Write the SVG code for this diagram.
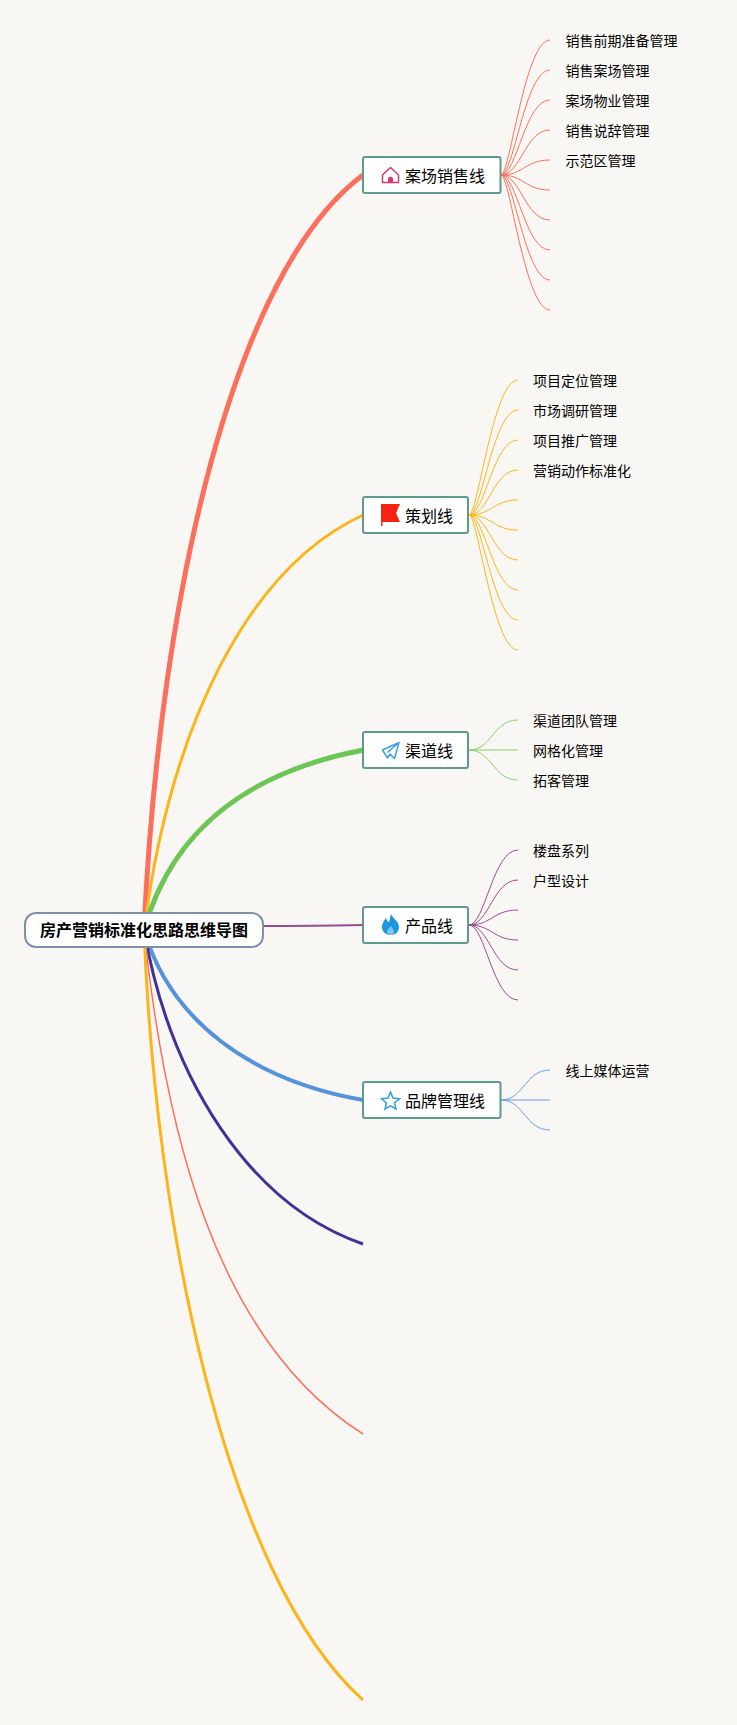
<svg xmlns="http://www.w3.org/2000/svg" width="737" height="1725" viewBox="0 0 737 1725">
<style>
.bg{fill:#f9f7f4}
.c{fill:none}
.l{fill:none;stroke-width:1}
.n{fill:#fff;stroke:#5f9a8f;stroke-width:2}
.t{font-family:"Noto Sans CJK SC","Liberation Sans",sans-serif;fill:#000}
.m{font-size:16px}
.s{font-size:14px}
</style>
<rect class="bg" width="737" height="1725"/>
<g id="connectors">
<path class="c" d="M144 930C160 590 235 270 363 175" stroke="#fc6f5c" stroke-width="5"/>
<path class="c" d="M144 930C170 730 245 570 363 515" stroke="#fbb51a" stroke-width="3"/>
<path class="c" d="M144 930C175 820 260 770 363 750" stroke="#6cc555" stroke-width="5"/>
<path class="c" d="M263 926Q310 926 363 925" stroke="#9a4b92" stroke-width="2"/>
<path class="c" d="M144 930C170 1020 250 1080 363 1100" stroke="#5592dd" stroke-width="4"/>
<path class="c" d="M144 930C170 1080 250 1205 363 1244" stroke="#3f3296" stroke-width="3"/>
<path class="c" d="M144 930C165 1130 215 1340 363 1434" stroke="#fc6f5c" stroke-width="1.500"/>
<path class="c" d="M144 930C155 1220 224 1575 363 1700" stroke="#fbb51a" stroke-width="3"/>
<path class="l" stroke="#fc6f5c" d="M501 175C510 175 525 40 550 40M501 175C514 175 525 70 550 70M501 175C517 175 525 100 550 100M501 175C521 175 525 130 550 130M501 175C524 175 525 160 550 160M501 175C524 175 525 190 550 190M501 175C521 175 525 220 550 220M501 175C517 175 525 250 550 250M501 175C514 175 525 280 550 280M501 175C510 175 525 310 550 310"/>
<path class="l" stroke="#fbb51a" d="M469 515C478 515 493 380 518 380M469 515C482 515 493 410 518 410M469 515C485 515 493 440 518 440M469 515C489 515 493 470 518 470M469 515C492 515 493 500 518 500M469 515C492 515 493 530 518 530M469 515C489 515 493 560 518 560M469 515C485 515 493 590 518 590M469 515C482 515 493 620 518 620M469 515C478 515 493 650 518 650"/>
<path class="l" stroke="#8ccb73" d="M469 750C492 750 493 720 518 720M469 750H518M469 750C492 750 493 780 518 780"/>
<path class="l" stroke="#9a4b92" d="M469 925C485 925 493 850 518 850M469 925C489 925 493 880 518 880M469 925C492 925 493 910 518 910M469 925C492 925 493 940 518 940M469 925C489 925 493 970 518 970M469 925C485 925 493 1000 518 1000"/>
<path class="l" stroke="#6f9fe0" d="M501 1100C524 1100 525 1070 550 1070M501 1100H550M501 1100C524 1100 525 1130 550 1130"/>
</g>
<g id="root">
<rect x="25" y="913" width="238" height="34" rx="11" fill="#fff" stroke="#8090aa" stroke-width="2"/>
<text class="t" x="144" y="936" text-anchor="middle" font-size="16" font-weight="700">房产营销标准化思路思维导图</text>
</g>
<g id="node1">
<rect class="n" x="363" y="157" width="137.500" height="36" rx="2"/>
<path d="M382.500 175L390.500 167.500L398.500 175V182.500H382.500Z" fill="none" stroke="#d8386c" stroke-width="1.500" stroke-linejoin="round"/>
<path d="M388 182.500V178Q390.500 175 393 178V182.500Z" fill="#d8386c"/>
<text class="t m" x="405" y="182">案场销售线</text>
</g>
<g id="node2">
<rect class="n" x="363" y="497" width="105" height="36" rx="2"/>
<path d="M381 504H400L396 513L400 522H382.500V526H381Z" fill="#f5230f"/>
<text class="t m" x="405" y="522">策划线</text>
</g>
<g id="node3">
<rect class="n" x="363" y="732" width="105" height="36" rx="2"/>
<path d="M382.500 750L399 742.500L394.500 758.500L390 754L387.500 758ZM387.500 752.500L399 742.500" fill="none" stroke="#3a9fe0" stroke-width="1.500" stroke-linejoin="round"/>
<text class="t m" x="405" y="757">渠道线</text>
</g>
<g id="node4">
<rect class="n" x="363" y="907" width="105" height="36" rx="2"/>
<path d="M391 914C393 919 399 921 399 927C399 932 395 935 391 935C386 935 382 932 382 927C382 923 384 921 386 918C387 921 388 922 389 922C390 919 390 917 391 914Z" fill="#1f96e0"/>
<path d="M391 926C393 929 394 930 394 932C394 934 392 935 391 935C389 935 387 934 387 932C387 930 389 928 391 926Z" fill="#7fc4ee"/>
<text class="t m" x="405" y="932">产品线</text>
</g>
<g id="node5">
<rect class="n" x="363" y="1082" width="137.500" height="36" rx="2"/>
<path d="M390.500 1092L393 1098L399.500 1098.800L394.500 1103L396 1109L390.500 1105.800L385 1109L386.500 1103L381.500 1098.800L388 1098Z" fill="none" stroke="#2fa0de" stroke-width="1.500"/>
<text class="t m" x="405" y="1107">品牌管理线</text>
</g>
<g id="leaf-text">
<text class="t s" x="565.500" y="46">销售前期准备管理</text>
<text class="t s" x="565.500" y="76">销售案场管理</text>
<text class="t s" x="565.500" y="106">案场物业管理</text>
<text class="t s" x="565.500" y="136">销售说辞管理</text>
<text class="t s" x="565.500" y="166">示范区管理</text>
<text class="t s" x="533" y="386">项目定位管理</text>
<text class="t s" x="533" y="416">市场调研管理</text>
<text class="t s" x="533" y="446">项目推广管理</text>
<text class="t s" x="533" y="476">营销动作标准化</text>
<text class="t s" x="533" y="726">渠道团队管理</text>
<text class="t s" x="533" y="756">网格化管理</text>
<text class="t s" x="533" y="786">拓客管理</text>
<text class="t s" x="533" y="856">楼盘系列</text>
<text class="t s" x="533" y="886">户型设计</text>
<text class="t s" x="565.500" y="1076">线上媒体运营</text>
</g>
</svg>
